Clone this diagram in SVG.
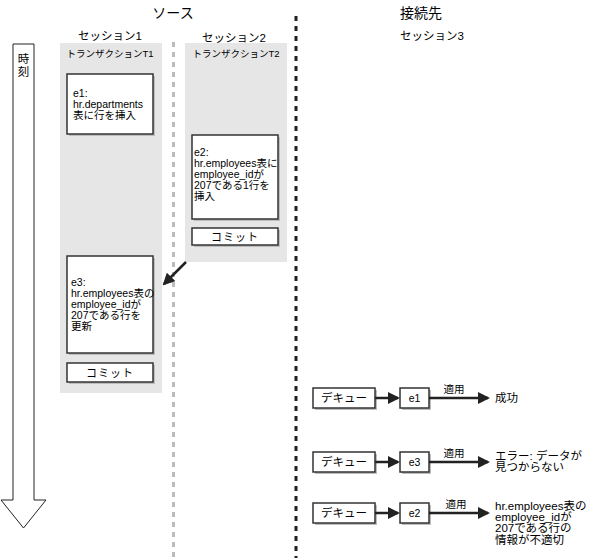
<svg xmlns="http://www.w3.org/2000/svg" width="606" height="558" viewBox="0 0 606 558">
<defs>
<style>
text{font-family:"Liberation Sans","Noto Sans CJK JP",sans-serif;fill:#000}
.h1{font-size:14px}
.h2{font-size:11.5px}
.h3{font-size:9.5px}
.t{font-size:10.5px}
.c{font-size:11px;letter-spacing:1px}
.r{font-size:11.5px}
.panel{fill:#e6e6e6}
.box{fill:#fff;stroke:#333;stroke-width:1.5}
.shadow{fill:#bdbdbd}
.conn{stroke:#222;stroke-width:2.5;fill:none}
</style>
<marker id="ah" markerWidth="12" markerHeight="12" refX="10" refY="6" orient="auto" markerUnits="userSpaceOnUse">
<path d="M0,0 L12,6 L0,12 Z" fill="#222"/>
</marker>
<marker id="ah2" markerWidth="12" markerHeight="12" refX="10" refY="6" orient="auto" markerUnits="userSpaceOnUse">
<path d="M0,0 L12,6 L0,12 Z" fill="#222"/>
</marker>
</defs>
<rect width="606" height="558" fill="#fff"/>

<g id="headers">
<text class="h1" x="173" y="18" text-anchor="middle">ソース</text>
<text class="h1" x="400" y="18">接続先</text>
<text class="h2" x="110" y="40" text-anchor="middle">セッション1</text>
<text class="h2" x="234" y="42" text-anchor="middle">セッション2</text>
<text class="h2" x="400" y="40">セッション3</text>
</g>

<g id="time-arrow">
<path d="M13,44 L34,44 L34,500 L46,500 L23.5,528 L1,500 L13,500 Z" fill="#fff" stroke="#222" stroke-width="1"/>
<text class="r" x="23.5" y="63" text-anchor="middle">時</text>
<text class="r" x="23.5" y="76" text-anchor="middle">刻</text>
</g>

<g id="dividers">
<line x1="173.5" y1="42" x2="173.5" y2="558" stroke="#bbb" stroke-width="3" stroke-dasharray="5,5"/>
<line x1="296" y1="16" x2="296" y2="558" stroke="#222" stroke-width="3" stroke-dasharray="5,5"/>
</g>

<g id="session1-panel">
<rect class="panel" x="60" y="43" width="102" height="350"/>
<text class="h3" x="110" y="57" text-anchor="middle">トランザクションT1</text>
</g>
<g id="session2-panel">
<rect class="panel" x="185" y="43" width="102" height="219"/>
<text class="h3" x="236" y="57" text-anchor="middle">トランザクションT2</text>
</g>

<g id="e1">
<rect class="shadow" x="69" y="76" width="86" height="60"/>
<rect class="box" x="67" y="74" width="86" height="60"/>
<text class="t" x="73" y="97">e1:</text>
<text class="t" x="73" y="108">hr.departments</text>
<text class="t" x="73" y="119">表に行を挿入</text>
</g>

<g id="e2">
<rect class="shadow" x="194" y="137" width="86" height="84"/>
<rect class="box" x="192" y="135" width="86" height="84"/>
<text class="t" x="194" y="156">e2:</text>
<text class="t" x="194" y="167">hr.employees表に</text>
<text class="t" x="194" y="178">employee_idが</text>
<text class="t" x="194" y="189">207である1行を</text>
<text class="t" x="194" y="200">挿入</text>
</g>

<g id="commit2">
<rect class="shadow" x="194" y="230" width="86" height="17"/>
<rect class="box" x="192" y="228" width="86" height="17"/>
<text class="c" x="235" y="241" text-anchor="middle">コミット</text>
</g>

<g id="e3">
<rect class="shadow" x="69" y="258" width="86" height="97"/>
<rect class="box" x="67" y="256" width="86" height="97"/>
<text class="t" x="71" y="286">e3:</text>
<text class="t" x="71" y="297">hr.employees表の</text>
<text class="t" x="71" y="308">employee_idが</text>
<text class="t" x="71" y="319">207である行を</text>
<text class="t" x="71" y="330">更新</text>
</g>

<g id="commit1">
<rect class="shadow" x="69" y="365" width="86" height="19"/>
<rect class="box" x="67" y="363" width="86" height="19"/>
<text class="c" x="110" y="377" text-anchor="middle">コミット</text>
</g>

<g id="row1">
<rect class="shadow" x="315" y="390" width="62" height="20"/>
<rect class="box" x="313" y="388" width="62" height="20"/>
<text class="r" x="344" y="402" text-anchor="middle">デキュー</text>
<rect class="shadow" x="402" y="390" width="29" height="20"/>
<rect class="box" x="400" y="388" width="29" height="20"/>
<text class="t" x="414.5" y="402" text-anchor="middle">e1</text>
<text class="t" x="454" y="393" text-anchor="middle">適用</text>
<text class="r" x="495" y="402">成功</text>
</g>

<g id="row2">
<rect class="shadow" x="315" y="454" width="62" height="20"/>
<rect class="box" x="313" y="452" width="62" height="20"/>
<text class="r" x="344" y="466" text-anchor="middle">デキュー</text>
<rect class="shadow" x="402" y="454" width="29" height="20"/>
<rect class="box" x="400" y="452" width="29" height="20"/>
<text class="t" x="414.5" y="466" text-anchor="middle">e3</text>
<text class="t" x="454" y="457" text-anchor="middle">適用</text>
<text class="r" x="495" y="460">エラー:  データが</text>
<text class="r" x="495" y="471">見つからない</text>
</g>

<g id="row3">
<rect class="shadow" x="315" y="505" width="62" height="20"/>
<rect class="box" x="313" y="503" width="62" height="20"/>
<text class="r" x="344" y="517" text-anchor="middle">デキュー</text>
<rect class="shadow" x="402" y="505" width="29" height="20"/>
<rect class="box" x="400" y="503" width="29" height="20"/>
<text class="t" x="414.5" y="517" text-anchor="middle">e2</text>
<text class="t" x="456" y="508" text-anchor="middle">適用</text>
<text class="r" x="495" y="510">hr.employees表の</text>
<text class="r" x="495" y="521">employee_idが</text>
<text class="r" x="495" y="532">207である行の</text>
<text class="r" x="495" y="544">情報が不適切</text>
</g>

<g id="connectors">
<line class="conn" x1="186" y1="262" x2="164" y2="284" marker-end="url(#ah)"/>
<line class="conn" x1="375" y1="398" x2="398" y2="398" marker-end="url(#ah2)"/>
<line class="conn" x1="429" y1="398" x2="488" y2="398" marker-end="url(#ah2)"/>
<line class="conn" x1="375" y1="462" x2="398" y2="462" marker-end="url(#ah2)"/>
<line class="conn" x1="429" y1="462" x2="488" y2="462" marker-end="url(#ah2)"/>
<line class="conn" x1="375" y1="513" x2="398" y2="513" marker-end="url(#ah2)"/>
<line class="conn" x1="429" y1="513" x2="488" y2="513" marker-end="url(#ah2)"/>
</g>
</svg>
